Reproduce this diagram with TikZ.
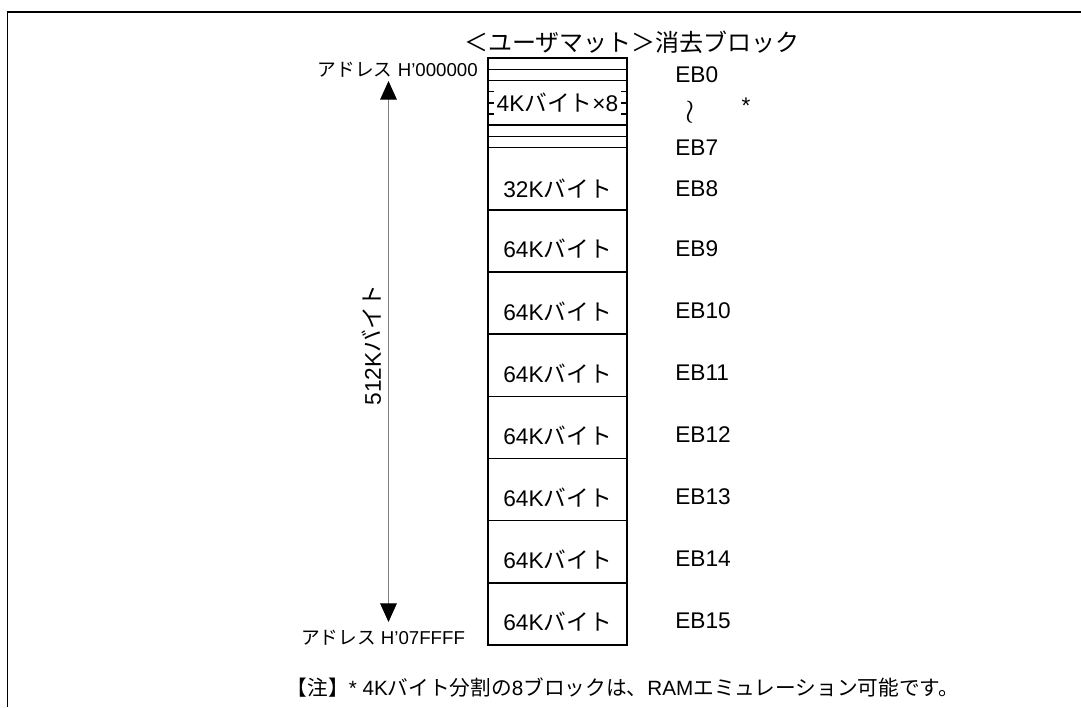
\documentclass[tikz,border=0pt]{standalone}
\usepackage{fontspec}
\setmainfont{Liberation Sans}
\newfontfamily\jpfont{Noto Sans CJK JP}
\usetikzlibrary{arrows.meta,positioning}

\begin{document}
\begin{tikzpicture}[
  x=0.75pt, y=-0.75pt,
  blk/.style={
    draw=black, line width=1.1pt,
    minimum width=104.25pt, minimum height=46.6pt,
    inner sep=0pt
  },
  txt/.style={font=\fontsize{17}{20}\selectfont, inner sep=0pt},
  small/.style={font=\fontsize{14}{16}\selectfont, inner sep=0pt},
  eblabel/.style={txt, anchor=west},
  rule/.style={line width=1.1pt},
  span/.style={gray, line width=0.75pt,
    {Triangle[length=14pt,width=12.5pt,color=black]}-{Triangle[length=14pt,width=12.5pt,color=black]}}
]
\useasboundingbox (0,0) rectangle (1081,707);

% Rahmen
\draw[line width=1.3pt] (7.5,707) -- (7.5,12) -- (1081,12);

% Titel
\node[font=\fontsize{18}{20}\selectfont\jpfont, inner sep=0pt] (title) at (632,42) {＜ユーザマット＞消去ブロック};

% 4K-Bloecke
\node[blk, minimum height=67.2pt] (small4k) at (557.5,102.9) {};
\foreach \k in {1,...,7} {
  \draw[rule] (488,58.3+\k*11.15) -- (627,58.3+\k*11.15);
}
\node[txt, fill=white, minimum width=95pt, minimum height=18pt] (b4k) at (557.5,103) {4K{\jpfont バイト}×8};

% 32K / 64K-Bloecke
\node[blk] (b8) at (557.5,178.8) {};
\node[txt] at ([yshift=-7pt]b8.center) {32K{\jpfont バイト}};
\foreach \n/\y in {9/241,10/303.1,11/365.3,12/427.4,13/489.6,14/551.7,15/613.9} {
  \node[blk] (b\n) at (557.5,\y) {};
  \node[txt] at ([yshift=-6pt]b\n.center) {64K{\jpfont バイト}};
}

% EB-Bezeichnungen
\node[eblabel] (eb0) at (675,75) {EB0};
\node[inner sep=0pt, font=\fontsize{30}{32}\selectfont] (wave) at (690,112) {$\wr$};
\node[txt] (star) at (746,106) {*};
\node[eblabel] (eb7) at (675,148) {EB7};
\foreach \n/\y in {8/188.5,9/249,10/311,11/373,12/435,13/497,14/559,15/621} {
  \node[eblabel] (eb\n) at (675,\y) {EB\n};
}

% Adressbereich
\node[small, anchor=east] (adrtop) at (478,70) {{\jpfont アドレス} H'000000};
\node[small] (adrbot) at (383,638) {{\jpfont アドレス} H'07FFFF};
\coordinate (top) at (388.5,81);
\coordinate (bot) at (388.5,622);
\draw[span] (top) -- (bot);
\node[txt, rotate=90] (size) at (372,345) {512K{\jpfont バイト}};

% Anmerkung
\node[font=\fontsize{15.5}{18}\selectfont, inner sep=0pt] (note) at (623,688)
  {{\jpfont 【注】}* 4K{\jpfont バイト分割の}8{\jpfont ブロックは、}RAM{\jpfont エミュレーション可能です。}};
\end{tikzpicture}
\end{document}
